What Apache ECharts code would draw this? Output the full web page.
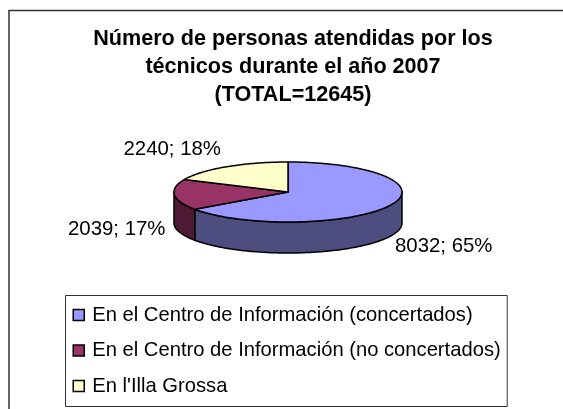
<!DOCTYPE html>
<html>
<head>
<meta charset="utf-8">
<style>
html,body{margin:0;padding:0;background:#fff;overflow:hidden}
#chart{width:563px;height:409px}
</style>
<script src="https://cdn.jsdelivr.net/npm/echarts@6/dist/echarts.min.js"></script>
</head>
<body>
<div id="chart"></div>
<script>
var titleText = 'Número de personas atendidas por los\ntécnicos durante el año 2007\n(TOTAL=12645)';
var categories = ['En el Centro de Información (concertados)', 'En el Centro de Información (no concertados)', "En l'Illa Grossa"];
var values = [8032, 2039, 2240];
var topColors = ['#9999ff', '#993366', '#ffffcc'];
var sideColors = ['#4d4d80', '#4d1a33', '#80806a'];

// ellipse of the fake 3d pie, in px
var cx = 288, cy = 192, rx = 114, ry = 30, depth = 31;
// where each label sits, in px
var labelPos = [[395, 246], [68, 229], [123.5, 149]];

var total = values.reduce(function (a, b) { return a + b }, 0);

function rim(deg, dy) {
	var a = deg * Math.PI / 180;
	return [cx + rx * Math.sin(a), cy - ry * Math.cos(a) + (dy || 0)];
}

function renderSlice(params, api) {
	var i = params.seriesIndex;
	var before = 0;
	for (var k = 0; k < i; k++) before += values[k];
	var start = before / total * 360;
	var end = start + api.value(0) / total * 360;
	var children = [];
	var d, pts;

	// side wall, only the part facing us (90deg to 270deg)
	var s0 = Math.max(start, 90), s1 = Math.min(end, 270);
	if (s1 > s0) {
		pts = [];
		for (d = s0; d < s1; d++) pts.push(rim(d));
		pts.push(rim(s1));
		for (d = s1; d > s0; d--) pts.push(rim(d, depth));
		pts.push(rim(s0, depth));
		children.push({
			type: 'polygon',
			shape: { points: pts },
			style: { fill: sideColors[i], stroke: '#000', lineWidth: 1.5, lineJoin: 'round' }
		});
	}

	// top face
	pts = [[cx, cy]];
	for (d = start; d < end; d++) pts.push(rim(d));
	pts.push(rim(end));
	children.push({
		type: 'polygon',
		shape: { points: pts },
		style: { fill: topColors[i], stroke: '#000', lineWidth: 1.5, lineJoin: 'round' }
	});

	// label
	children.push({
		type: 'text',
		x: labelPos[i][0],
		y: labelPos[i][1],
		style: {
			text: api.value(0) + '; ' + Math.round(api.value(0) / total * 100) + '%',
			fill: '#000',
			font: '20.4px "Liberation Sans", Arial, sans-serif',
			verticalAlign: 'middle'
		}
	});
	return { type: 'group', children: children };
}

var chart = echarts.init(document.getElementById('chart'), null, { renderer: 'canvas' });
chart.setOption({
	animation: false,
	backgroundColor: '#fff',
	title: {
		text: titleText,
		left: 288,
		top: 20,
		textAlign: 'center',
		textStyle: {
			fontFamily: '"Liberation Sans", Arial, sans-serif',
			fontWeight: 'bold',
			fontSize: 21.6,
			lineHeight: 28,
			color: '#000'
		}
	},
	legend: {
		orient: 'vertical',
		left: 65.5,
		top: 295.5,
		height: 116,
		padding: [9.5, 6.5, 10.5, 7],
		itemGap: 15.5,
		itemWidth: 11,
		itemHeight: 11,
		icon: 'rect',
		selectedMode: false,
		backgroundColor: '#fff',
		borderColor: '#333',
		borderWidth: 1,
		borderRadius: 0,
		itemStyle: { borderColor: '#000', borderWidth: 1.5 },
		textStyle: {
			fontFamily: '"Liberation Sans", Arial, sans-serif',
			fontSize: 20.2,
			color: '#000',
			lineHeight: 20,
			padding: [0, 0, 0, 3]
		},
		data: categories
	},
	graphic: [{
		type: 'rect',
		z: -1,
		shape: { x: 9, y: 10.5, width: 600, height: 500 },
		style: { fill: 'none', stroke: '#333', lineWidth: 1.5 }
	}],
	series: categories.map(function (name, i) {
		return {
			type: 'custom',
			name: name,
			coordinateSystem: 'none',
			itemStyle: { color: topColors[i] },
			renderItem: renderSlice,
			data: [[values[i]]]
		};
	})
});
</script>
</body>
</html>
